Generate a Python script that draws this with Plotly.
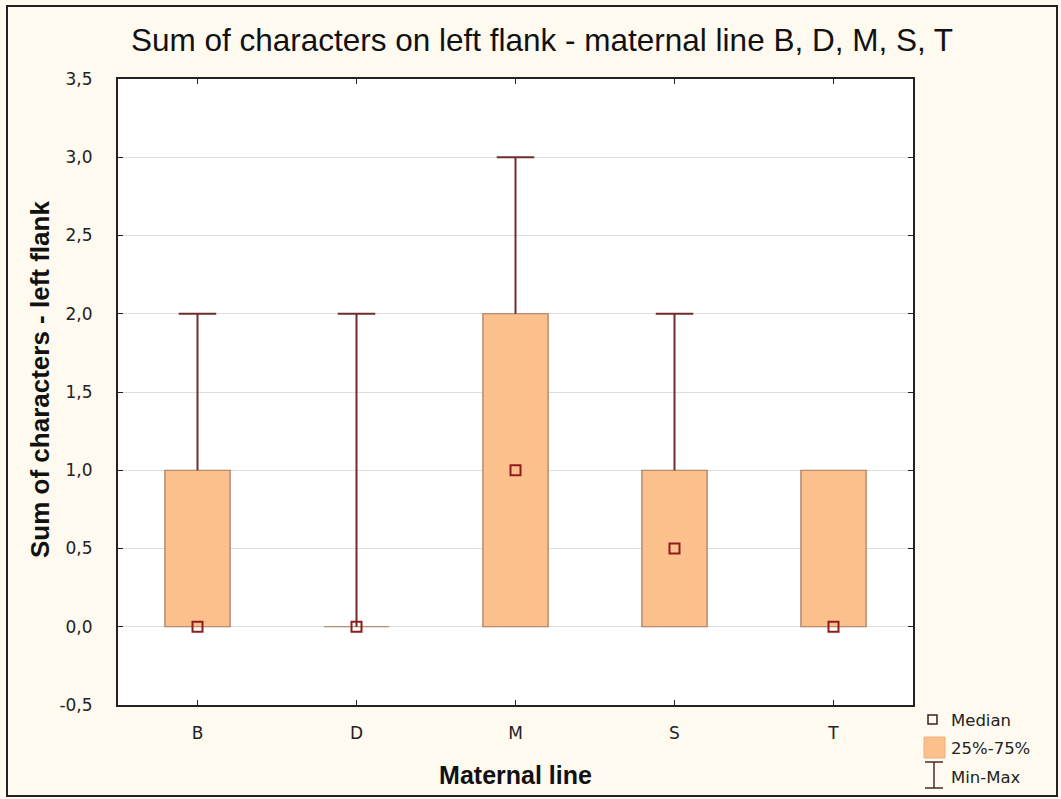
import plotly.graph_objects as go

# Summary statistics per maternal line
lines = ["B", "D", "M", "S", "T"]
minimum = [0, 0, 0, 0, 0]
q1 = [0, 0, 0, 0, 0]
median = [0, 0, 1, 0.5, 0]
q3 = [1, 0, 2, 1, 1]
maximum = [2, 2, 3, 2, 1]
y_ticks = [-0.5, 0, 0.5, 1, 1.5, 2, 2.5, 3, 3.5]
y_tick_text = ["-0,5", "0,0", "0,5", "1,0", "1,5", "2,0", "2,5", "3,0", "3,5"]

BOX_FILL = "#FCC08C"
BOX_EDGE = "#A8785A"
WHISKER = "#6E2C2C"
MEDIAN = "#8E1C1C"
BG = "#FEFAEF"

W, H = 1061, 799
ML, MR, MT, MB = 118, 148, 79, 94
PW, PH = W - ML - MR, H - MT - MB

box_half = 0.205
cap_half = 0.118

xs = list(range(len(lines)))

fig = go.Figure()

shapes = []
# interquartile boxes
for i in xs:
    shapes.append(dict(type="rect", xref="x", yref="y",
                       x0=i - box_half, x1=i + box_half, y0=q1[i], y1=q3[i],
                       fillcolor=BOX_FILL, line=dict(color=BOX_EDGE, width=1.2),
                       layer="between"))

# whiskers (q3 -> max and min -> q1) with caps
wx, wy = [], []
for i in xs:
    if maximum[i] > q3[i]:
        wx += [i, i, None, i - cap_half, i + cap_half, None]
        wy += [q3[i], maximum[i], None, maximum[i], maximum[i], None]
    if minimum[i] < q1[i]:
        wx += [i, i, None, i - cap_half, i + cap_half, None]
        wy += [q1[i], minimum[i], None, minimum[i], minimum[i], None]
fig.add_trace(go.Scatter(x=wx, y=wy, mode="lines", line=dict(color=WHISKER, width=2),
                         showlegend=False, hoverinfo="skip"))

# medians
fig.add_trace(go.Scatter(x=xs, y=median, mode="markers",
                         marker=dict(symbol="square-open", size=10, color=MEDIAN,
                                     line=dict(width=2, color=MEDIAN)),
                         showlegend=False))


def px_to_paper(px, py):
    return (px - ML) / PW, (H - MB - py) / PH


# outer frame of the whole figure
fx0, fy0 = px_to_paper(7, 796)
fx1, fy1 = px_to_paper(1057, 6)
shapes.append(dict(type="rect", xref="paper", yref="paper", x0=fx0, x1=fx1, y0=fy0, y1=fy1,
                   line=dict(color="#222222", width=2), layer="below"))

# legend keys
lx0, ly0 = px_to_paper(928, 724)
lx1, ly1 = px_to_paper(937, 715)
shapes.append(dict(type="rect", xref="paper", yref="paper", x0=lx0, x1=lx1, y0=ly0, y1=ly1,
                   line=dict(color="#3A2020", width=1.5), fillcolor="rgba(0,0,0,0)"))
bx0, by0 = px_to_paper(924, 758)
bx1, by1 = px_to_paper(945, 737)
shapes.append(dict(type="rect", xref="paper", yref="paper", x0=bx0, x1=bx1, y0=by0, y1=by1,
                   line=dict(color="#EBB080", width=1), fillcolor=BOX_FILL))
cx, ct = px_to_paper(934, 762)
_, cb = px_to_paper(934, 788)
cl, _ = px_to_paper(925, 0)
cr, _ = px_to_paper(943, 0)
for seg in [(cx, ct, cx, cb), (cl, ct, cr, ct), (cl, cb, cr, cb)]:
    shapes.append(dict(type="line", xref="paper", yref="paper",
                       x0=seg[0], y0=seg[1], x1=seg[2], y1=seg[3],
                       line=dict(color="#4A2A2A", width=1.5)))

annotations = []
for label, py in [("Median", 720), ("25%-75%", 748), ("Min-Max", 777)]:
    ax, ay = px_to_paper(949, py)
    annotations.append(dict(text=label, xref="paper", yref="paper", x=ax, y=ay,
                            xanchor="left", yanchor="middle", showarrow=False,
                            font=dict(family="DejaVu Sans", size=16.5, color="#222222")))

# y-axis title, placed as a rotated annotation
tx, ty = px_to_paper(40, 380)
annotations.append(dict(text="<b>Sum of characters - left flank</b>", xref="paper", yref="paper",
                        x=tx, y=ty, xanchor="center", yanchor="middle", textangle=-90,
                        showarrow=False,
                        font=dict(family="Liberation Sans, Arial", size=26, color="#111111")))

title_x, _ = px_to_paper(542, 0)

fig.update_layout(
    width=W, height=H,
    margin=dict(l=ML, r=MR, t=MT, b=MB),
    paper_bgcolor=BG, plot_bgcolor="white",
    separators=", ",
    showlegend=False,
    shapes=shapes,
    annotations=annotations,
    title=dict(text="Sum of characters on left flank - maternal line B, D, M, S, T",
               x=title_x, xref="paper", xanchor="center", y=1 - 40 / H, yanchor="middle",
               font=dict(family="Liberation Sans, Arial", size=31.5, color="#111111")),
    xaxis=dict(range=[-0.5, 4.5], tickvals=xs, ticktext=lines,
               showgrid=False, zeroline=False,
               showline=True, linecolor="#222222", linewidth=2, mirror="ticks",
               ticks="inside", ticklen=5, tickcolor="#222222",
               ticklabelstandoff=12,
               tickfont=dict(family="DejaVu Sans", size=17, color="#222222"),
               title=dict(text="<b>Maternal line</b>", standoff=24,
                          font=dict(family="Liberation Sans, Arial", size=25, color="#111111"))),
    yaxis=dict(range=[-0.5, 3.5], tickvals=y_ticks, ticktext=y_tick_text,
               showgrid=True, gridcolor="#DEDEDE", gridwidth=1, zeroline=False,
               showline=True, linecolor="#222222", linewidth=2, mirror="ticks",
               ticks="inside", ticklen=5, tickcolor="#222222",
               ticklabelstandoff=20,
               tickfont=dict(family="DejaVu Sans", size=17, color="#222222")),
)

fig.write_html("out.html")
